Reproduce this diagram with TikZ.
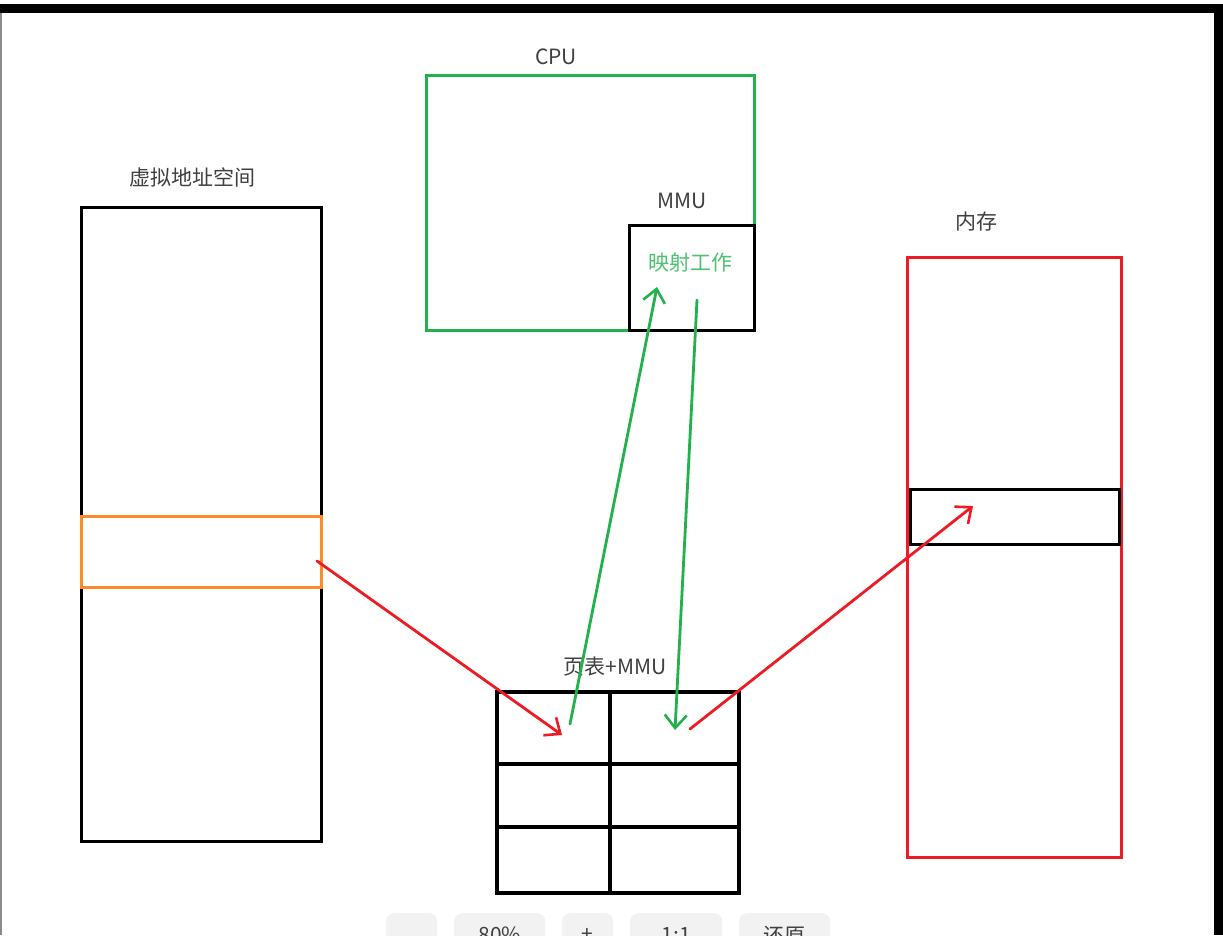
\documentclass[tikz,border=0pt]{standalone}
\usepackage{fontspec}
\setmainfont{Noto Sans CJK SC}
\usetikzlibrary{calc,positioning,arrows.meta}
\definecolor{penred}{HTML}{ED1C24}
\definecolor{pengreen}{HTML}{22B14C}
\definecolor{penorange}{HTML}{FF8A2B}
\definecolor{lblgray}{HTML}{404040}
\tikzset{
  box/.style={
    draw=black,
    line width=3pt,
    anchor=north west,
    inner sep=0pt,
    outer sep=0pt
  },
  cell/.style={box, line width=3.8pt},
  lbl/.style={font=\fontsize{21pt}{24pt}\selectfont, text=lblgray, inner sep=0pt},
  redpen/.style={draw=penred, line width=2.8pt, line cap=round,
    -{Straight Barb[length=13pt,width=22pt,line width=2.6pt]}},
  greenpen/.style={draw=pengreen, line width=2.8pt, line cap=round,
    -{Straight Barb[length=13pt,width=22pt,line width=2.6pt]}},
  uibtn/.style={fill=black!5, rounded corners=8pt, draw=none, anchor=north west,
    inner sep=0pt, minimum height=50pt},
  uitxt/.style={font=\fontsize{21pt}{24pt}\selectfont, text=black!75, inner sep=0pt},
}
\begin{document}
\begin{tikzpicture}[x=1pt,y=-1pt]
  \useasboundingbox (0,0) rectangle (1223,935);
  \fill[white] (0,0) rectangle (1223,935);
  % window frame
  \fill[black] (0,4) rectangle (1223,13);
  \fill[black] (1214,4) rectangle (1223,935);
  \fill[black!45] (0,13) rectangle (2,935);

  % virtual address space
  \node[box, minimum width=240pt, minimum height=634pt] (vas) at (81,207) {};
  \node[box, draw=penorange, minimum width=240pt, minimum height=71pt] (vslot) at (81,516) {};
  \node[lbl] at (192,177) {虚拟地址空间};

  % cpu and mmu
  \node[box, draw=pengreen, minimum width=328pt, minimum height=255pt] (cpu) at (426,75) {};
  \node[lbl] at (556,57) {CPU};
  \node[box, minimum width=125pt, minimum height=105pt] (mmu) at (629,225) {};
  \node[lbl] at (682,201) {MMU};
  \node[lbl, text=pengreen!80!white] (work) at (690,263) {映射工作};

  % memory
  \node[box, draw=penred, minimum width=214pt, minimum height=600pt] (mem) at (907,257) {};
  \node[box, minimum width=209pt, minimum height=55pt] (mslot) at (910,489) {};
  \node[lbl] at (976,222) {内存};

  % page table
  \foreach \r/\y/\h in {1/692/72,2/764/63,3/827/66} {
    \node[cell, minimum width=113pt, minimum height=\h pt] (pt\r1) at (497,\y) {};
    \node[cell, minimum width=129pt, minimum height=\h pt] (pt\r2) at (610,\y) {};
  }
  \node[lbl] at (615,667) {页表+MMU};

  % arrows
  \draw[redpen] ([shift={(116,9.5)}]vslot.center) -- ([shift={(8.5,7)}]pt11.center);
  \draw[greenpen] ([shift={(16.5,-4)}]pt11.center) -- ([shift={(-34.5,9.5)}]mmu.center);
  \draw[greenpen] ([shift={(5.5,22.5)}]mmu.center) -- ([shift={(0.5,2)}]pt12.center);
  \draw[redpen] ([shift={(15.5,1)}]pt12.center) -- ([shift={(-41.5,-10.5)}]mslot.center);

  % viewer toolbar, cut by the page edge
  \begin{scope}
    \clip (0,0) rectangle (1223,935);
    \foreach \x/\w/\t [count=\i] in {386/51/{},454/91/80\%,562/51/+,630/92/1:1,739/91/还原} {
      \node[uibtn, minimum width=\w pt] (btn\i) at (\x,913) {};
      \node[uitxt] at ([yshift=3pt]btn\i.center) {\t};
    }
  \end{scope}
\end{tikzpicture}
\end{document}
